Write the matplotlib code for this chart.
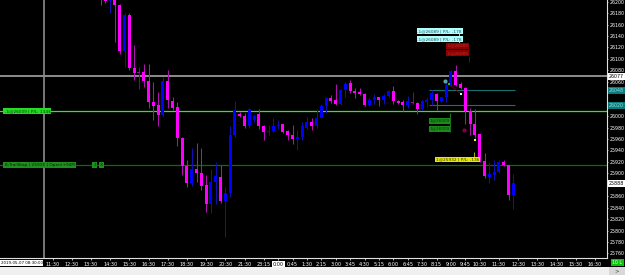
import matplotlib
matplotlib.use("Agg")
import matplotlib.pyplot as plt
from matplotlib.patches import Rectangle
from matplotlib.transforms import blended_transform_factory

# 15-minute bars, slot index 0 = 11:30 on day one
first_slot = 10
opens = [26228, 26215, 26202, 26214, 26194, 26113, 26176, 26085, 26077, 26078,
         26062, 26024, 26019, 26002, 26062, 26027, 26016, 25961, 25912, 25883,
         25908, 25901, 25880, 25846, 25884, 25894, 25852, 25866, 25967, 26004,
         26001, 25983, 25993, 26004, 25983, 25972, 25974, 25982, 25986, 25974,
         25967, 25960, 25964, 25980, 25989, 25982, 25997, 26018, 26031, 26028,
         26021, 26045, 26058, 26044, 26042, 26039, 26019, 26029, 26033, 26028,
         26035, 26044, 26027, 26025, 26019, 26025, 26023, 26012, 26025, 26028,
         26039, 26027, 26033, 26054, 26079, 26056, 26050, 26009, 25987, 25969,
         25922, 25894, 25897, 25903, 25920, 25915, 25862]
highs = [26236, 26220, 26218, 26220, 26196, 26180, 26180, 26124, 26086, 26091,
         26091, 26059, 26043, 26068, 26081, 26034, 26025, 25963, 25923, 25944,
         25953, 25944, 25897, 25907, 25920, 25915, 25876, 25982, 26027, 26008,
         26006, 26014, 26004, 26012, 25985, 25985, 25996, 25994, 25987, 25976,
         25985, 25976, 25990, 25999, 25996, 26012, 26022, 26034, 26037, 26056,
         26047, 26059, 26064, 26050, 26050, 26041, 26031, 26038, 26034, 26039,
         26046, 26053, 26029, 26028, 26036, 26043, 26025, 26028, 26034, 26046,
         26040, 26034, 26064, 26081, 26089, 26060, 26051, 26014, 26012, 25969,
         25936, 25920, 25923, 25923, 25923, 25915, 25899]
lows = [26194, 26198, 26180, 26130, 26109, 26086, 26081, 26064, 26047, 26051,
        26014, 25993, 25983, 26000, 26014, 26010, 25948, 25897, 25876, 25878,
        25884, 25870, 25833, 25830, 25846, 25848, 25789, 25859, 25963, 25998,
        25980, 25980, 25990, 25977, 25958, 25967, 25973, 25977, 25971, 25958,
        25951, 25941, 25958, 25978, 25976, 25979, 25996, 26005, 26023, 26019,
        26019, 26034, 26041, 26031, 26037, 26018, 26018, 26021, 26018, 26022,
        26034, 26021, 26022, 26009, 26015, 26022, 26004, 26010, 26016, 26019,
        26011, 26025, 26025, 26052, 26052, 26048, 25987, 25967, 25961, 25920,
        25891, 25883, 25888, 25900, 25912, 25853, 25838]
closes = [26208, 26202, 26212, 26194, 26113, 26176, 26084, 26076, 26076, 26061,
          26025, 26018, 26002, 26062, 26028, 26015, 25961, 25912, 25883, 25907,
          25901, 25878, 25846, 25885, 25895, 25852, 25865, 25967, 26011, 26001,
          25982, 26013, 26001, 25982, 25973, 25974, 25983, 25984, 25973, 25967,
          25960, 25964, 25982, 25989, 25982, 25997, 26018, 26031, 26027, 26021,
          26046, 26057, 26044, 26041, 26039, 26019, 26029, 26033, 26028, 26035,
          26044, 26027, 26023, 26019, 26026, 26023, 26012, 26026, 26028, 26040,
          26027, 26033, 26054, 26079, 26054, 26050, 26009, 25987, 25967, 25922,
          25895, 25899, 25903, 25920, 25915, 25862, 25883]
dim_slots = [18, 75]

tick_slots = [0, 4, 8, 12, 16, 20, 24, 28, 32, 36, 40, 44, 47, 50, 53, 56, 59,
              62, 65, 68, 71, 74, 77, 80, 83, 86, 89, 93, 97, 101, 105, 109, 113]
tick_labels = ["11:30", "12:30", "13:30", "14:30", "15:30", "16:30", "17:30",
               "18:30", "19:30", "20:30", "21:30", "23:15", "0:00", "0:45",
               "1:30", "2:15", "3:00", "3:45", "4:30", "5:15", "6:00", "6:45",
               "7:30", "8:15", "9:00", "9:45", "10:30", "11:30", "12:30",
               "13:30", "14:30", "15:30", "16:30"]
price_ticks = list(range(25760, 26201, 20))
hidden_ticks = [26040, 26020, 25880]  # sit under the price boxes

crosshair_slot = -1.8
crosshair_price = 26070
entry_price = 26009
stop_price = 25914
target_prices = [26045, 26019]
last_price = 25883

fig = plt.figure(figsize=(6.25, 2.75), dpi=100, facecolor="black")
ax = fig.add_axes([0, 17 / 275, 607 / 625, 258 / 275])
ax.set_facecolor("black")
ax.set_xlim(-10.94, 115.5)
ax.set_ylim(25752, 26203)

# candles
xs = [first_slot + i for i in range(len(opens))]
body_cols, wick_cols, bottoms, heights = [], [], [], []
for x, o, c in zip(xs, opens, closes):
    if x in dim_slots:
        body_cols.append("#b000b0")
        wick_cols.append("#800080")
    elif c > o:
        body_cols.append("#0000ff")
        wick_cols.append("#1010b0")
    else:
        body_cols.append("#ff00ff")
        wick_cols.append("#b010b0")
    bottoms.append(min(o, c))
    heights.append(max(abs(c - o), 1.5))
ax.vlines(xs, lows, highs, colors=wick_cols, lw=0.75, zorder=3)
ax.bar(xs, heights, bottom=bottoms, width=0.62, color=body_cols, lw=0, zorder=4)

# crosshair
ax.axvline(crosshair_slot, color="#8c8c8c", lw=1.2, zorder=2)
ax.axhline(crosshair_price, color="#8c8c8c", lw=1.4, zorder=2)

# position lines
ax.axhline(entry_price, color="#22ee22", lw=0.9, zorder=2)
ax.axhline(stop_price, color="#007400", lw=0.9, zorder=2)
ax.hlines(target_prices, 78.4, 96.4, color="#1a7070", lw=0.8, zorder=2)

small = dict(fontsize=3.1, va="center", zorder=8, family="DejaVu Sans")
ax.text(-10.0, entry_price, "-1@26009 | P/L: 134$", color="#063806", ha="left",
        bbox=dict(boxstyle="square,pad=0.25", fc="#22dd22", ec="none"), **small)
ax.text(-10.0, stop_price, "8:TrailStop | 25915 | Open(+94P)", color="#042804",
        ha="left", bbox=dict(boxstyle="square,pad=0.25", fc="#1f8f1f", ec="none"), **small)
ax.text(8.5, stop_price, "1", color="#042804", ha="left",
        bbox=dict(boxstyle="square,pad=0.25", fc="#1f8f1f", ec="none"), **small)
ax.text(9.9, stop_price, "X", color="#042804", ha="left",
        bbox=dict(boxstyle="square,pad=0.25", fc="#1f8f1f", ec="none"), **small)

# order labels near the action
for p in [26149, 26135]:
    ax.text(76.0, p, "-1@26089 | P/L: -178", color="#205050", ha="left",
            bbox=dict(boxstyle="square,pad=0.2", fc="#b0ffff", ec="none"), **small)
ax.vlines(84.7, 26121, 26145, color="#b0ffff", lw=0.6, zorder=6)
for p in [26123, 26110]:
    ax.text(82.1, p, "-1@26089", color="#c03030", ha="left",
            bbox=dict(boxstyle="square,pad=0.2", fc="#8b0000", ec="none"), **small)
ax.vlines(86.8, 26095, 26105, color="#8b0000", lw=0.6, zorder=6)
for p in [25992, 25978]:
    ax.text(78.5, p, "1@26009", color="#0a3a0a", ha="left",
            bbox=dict(boxstyle="square,pad=0.2", fc="#1a8a1a", ec="none"), **small)
ax.vlines(82.7, 25973, 26005, color="#1a8a1a", lw=0.6, zorder=6)
ax.text(79.8, 25924, "1@25932 | P/L: -136", color="#303000", ha="left",
        bbox=dict(boxstyle="square,pad=0.2", fc="#e8e800", ec="none"), **small)
ax.vlines(87.7, 25928, 25938, color="#c8c800", lw=0.6, zorder=6)

ax.plot([82.5, 84.9], [26056, 26040], color="#800020", lw=0.6, zorder=6)
ax.scatter([81.8], [26062], s=9, color="#5fa0a0", zorder=7, lw=0)
ax.scatter([85.8], [25975], s=9, color="#800040", zorder=7, lw=0)
ax.scatter([85.1], [26038], s=4, marker="s", color="#c0ffff", zorder=7, lw=0)
ax.scatter([88.0], [25958], s=4, marker="s", color="#ffff40", zorder=7, lw=0)
ax.scatter([82.6], [26056], s=3, marker="s", color="#20c020", zorder=7, lw=0)

# axes styling
for side in ["top", "left"]:
    ax.spines[side].set_visible(False)
for side in ["bottom", "right"]:
    ax.spines[side].set_color("#e0e0e0")
    ax.spines[side].set_linewidth(0.8)
ax.yaxis.tick_right()
ax.set_yticks(price_ticks)
ax.set_yticklabels(["" if p in hidden_ticks else str(p) for p in price_ticks])
ax.set_xticks(tick_slots)
ax.set_xticklabels(tick_labels)
ax.tick_params(axis="x", colors="white", labelsize=3.5, length=1.5, width=0.5, pad=1.5)
ax.tick_params(axis="y", colors="white", labelsize=3.4, length=1.0, width=0.5, pad=0.6)
for lbl in ax.get_xticklabels():
    if lbl.get_text() == "0:00":
        lbl.set_color("black")
        lbl.set_bbox(dict(boxstyle="square,pad=0.2", fc="white", ec="none"))

# price boxes on the right axis
trans_y = blended_transform_factory(ax.transAxes, ax.transData)
box_items = [(crosshair_price, "26077", "white", "black"),
             (target_prices[0], "26048", "#0a7a7a", "#90e0e0"),
             (target_prices[1], "26020", "#0a7a7a", "#90e0e0"),
             (last_price, "25888", "white", "black")]
for p, t, fc, tc in box_items:
    ax.text(1.003, p, t, transform=trans_y, fontsize=3.4, color=tc, ha="left",
            va="center", clip_on=False, zorder=10,
            bbox=dict(boxstyle="square,pad=0.2", fc=fc, ec="none"))

# crosshair time label
ax.text(0.001, -0.012, "2019-05-07 08:30:00", transform=ax.transAxes,
        fontsize=2.9, color="black", ha="left", va="top", clip_on=False, zorder=10,
        bbox=dict(boxstyle="square,pad=0.2", fc="white", ec="none"))

# scrollbar strip and status box
fig.patches.append(Rectangle((0, 0), 1, 8 / 275, transform=fig.transFigure,
                             fc="#f0f0f0", ec="none"))
fig.patches.append(Rectangle((609 / 625, 0), 16 / 625, 8 / 275,
                             transform=fig.transFigure, fc="#d8d8d8", ec="none"))
fig.text(617 / 625, 4 / 275, ">", fontsize=4, color="#404040", ha="center", va="center")
fig.text(617.5 / 625, 12.5 / 275, "10 L", fontsize=3.3, color="white", ha="center",
         va="center", bbox=dict(boxstyle="square,pad=0.3", fc="#10c010", ec="none"))

fig.savefig("out.png", dpi=100, facecolor="black")
